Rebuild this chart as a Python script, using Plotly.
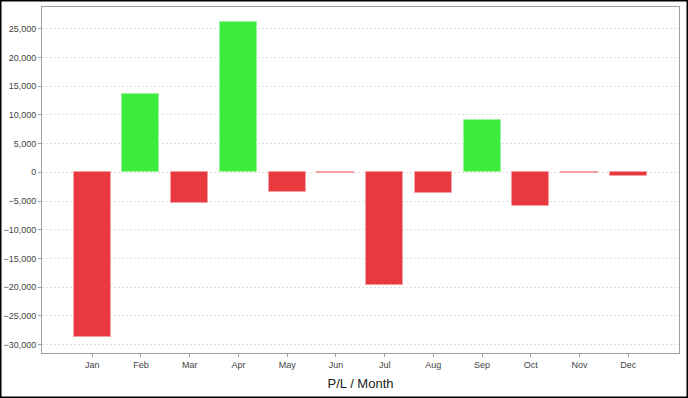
import plotly.graph_objects as go

months = ["Jan", "Feb", "Mar", "Apr", "May", "Jun", "Jul", "Aug", "Sep", "Oct", "Nov", "Dec"]
pl_values = [-28700, 13650, -5350, 26150, -3380, -60, -19700, -3550, 9070, -5930, -100, -700]
y_ticks = [-30000, -25000, -20000, -15000, -10000, -5000, 0, 5000, 10000, 15000, 20000, 25000]

RED = "#E8393E"
GREEN = "#3DEB3D"
RED_EDGE = "#F4A0A2"
GREEN_EDGE = "#9EF59E"

colors = [GREEN if v >= 0 else RED for v in pl_values]
edges = [GREEN_EDGE if v >= 0 else RED_EDGE for v in pl_values]

W, H = 688, 398
ML, MR, MT, MB = 42, 9, 7, 45

fig = go.Figure(go.Bar(
    x=list(range(len(months))), y=pl_values,
    marker=dict(color=colors, line=dict(color=edges, width=1)),
    width=0.76, hoverinfo="skip",
))

pw = W - ML - MR
ph = H - MT - MB
fig.add_shape(type="rect", xref="paper", yref="paper",
              x0=-ML / pw + 0.75 / pw, x1=1 + MR / pw - 0.75 / pw,
              y0=-MB / ph + 0.75 / ph, y1=1 + MT / ph - 0.75 / ph,
              line=dict(color="black", width=1.5), layer="above")

fig.update_layout(
    width=W, height=H,
    margin=dict(l=ML, r=MR, t=MT, b=MB, autoexpand=False),
    paper_bgcolor="white", plot_bgcolor="white",
    font=dict(family="Liberation Sans, Arial, sans-serif", color="#444444", size=9),
    showlegend=False,
    bargap=0,
    xaxis=dict(
        tickmode="array", tickvals=list(range(len(months))), ticktext=months,
        range=[-1.03, 12.04], automargin=False,
        showgrid=False, zeroline=False,
        showline=True, linecolor="#A0A0A0", linewidth=1, mirror=True,
        ticks="outside", ticklen=3, tickcolor="#A0A0A0",
        tickfont=dict(size=9, color="#444444"),
        title=dict(text="P/L / Month", font=dict(size=13, color="#222222"), standoff=10),
    ),
    yaxis=dict(
        range=[-31500, 28830], automargin=False,
        tickmode="array", tickvals=y_ticks, tickformat=",",
        showgrid=True, gridcolor="#DEDEDE", griddash="2px,2px", gridwidth=1,
        zeroline=False,
        showline=True, linecolor="#A0A0A0", linewidth=1, mirror=True,
        ticks="outside", ticklen=3, tickcolor="#A0A0A0",
        tickfont=dict(size=9, color="#444444"),
    ),
)

fig.write_html("out.html", config={"displayModeBar": False},
               post_script="document.body.style.margin='0';")
